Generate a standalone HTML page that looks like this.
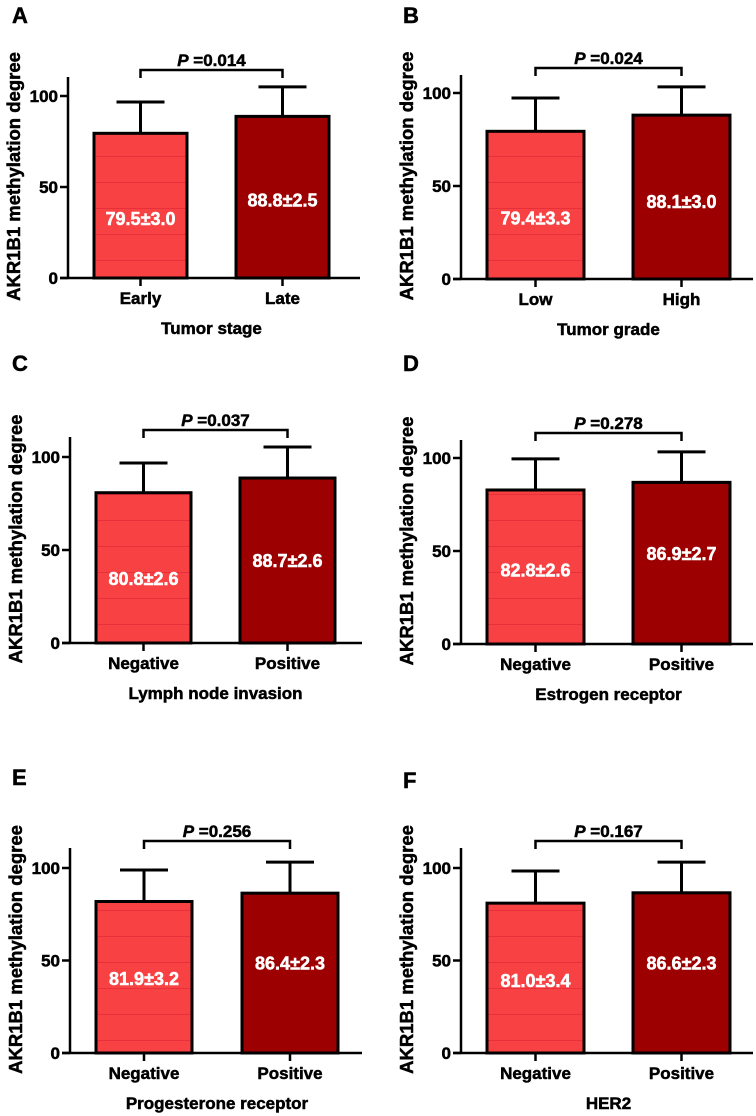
<!DOCTYPE html>
<html><head><meta charset="utf-8"><style>
html,body{margin:0;padding:0;background:#fff}
svg{display:block}
text{font-family:"Liberation Sans",Arial,sans-serif;font-weight:bold;stroke:currentColor;stroke-width:0.5px;paint-order:stroke}
</style></head><body>
<svg id="fig" width="756" height="1116" viewBox="0 0 756 1116" xmlns="http://www.w3.org/2000/svg"></svg>
<script>
// ---- data ----
const panelLetters = ["A","B","C","D","E","F"];
const xTitles = ["Tumor stage","Tumor grade","Lymph node invasion","Estrogen receptor","Progesterone receptor","HER2"];
const cat1 = ["Early","Low","Negative","Negative","Negative","Negative"];
const cat2 = ["Late","High","Positive","Positive","Positive","Positive"];
const means1 = [79.5,79.4,80.8,82.8,81.9,81.0];
const means2 = [88.8,88.1,88.7,86.9,86.4,86.6];
const sem1 = [3.0,3.3,2.6,2.6,3.2,3.4];
const sem2 = [2.5,3.0,2.6,2.7,2.3,2.3];
const errTop1 = [96.7,97.3,96.8,99.5,98.9,98.4];
const errTop2 = [105,103.3,105.4,103.3,103.2,103.2];
const labelVal1 = [33,33,35,40,40.5,39.5];
const labelVal2 = [43,42,44.6,49,49,49];
const pValues = ["0.014","0.024","0.037","0.278","0.256","0.167"];
const yTicks = [0,50,100];

// ---- layout (not data) ----
const layouts = [
 {ax:68, top:77, zero:278, y100:96, b1:26,b2:168,bw:93,letterX:12, letterY:23},
 {ax:461,top:75, zero:279, y100:93, b1:26,b2:172,bw:97,letterX:403,letterY:23},
 {ax:70, top:437,zero:643, y100:457,b1:26,b2:170,bw:95,letterX:12, letterY:371},
 {ax:461,top:440,zero:644, y100:458,b1:26,b2:172,bw:97,letterX:403,letterY:371},
 {ax:70, top:848,zero:1053,y100:868,b1:26,b2:172,bw:96,letterX:12, letterY:785},
 {ax:461,top:848,zero:1053,y100:868,b1:26,b2:172,bw:97,letterX:403,letterY:788}
];
const NS="http://www.w3.org/2000/svg";
const svg=document.getElementById('fig');
function mk(tag,attrs,parent){const e=document.createElementNS(NS,tag);for(const k in attrs)e.setAttribute(k,attrs[k]);(parent||svg).appendChild(e);return e;}

const defs=mk('defs',{});
const pat=mk('pattern',{id:'stripes',patternUnits:'userSpaceOnUse',width:100,height:26},defs);
mk('rect',{x:0,y:0,width:100,height:26,fill:'#f84143'},pat);
mk('rect',{x:0,y:0,width:100,height:1,fill:'#e8303a'},pat);

layouts.forEach((L,i)=>{
  const g=mk('g',{});
  
  
  const sc=(L.zero-L.y100)/100;
  const y=v=>L.zero-v*sc;
  const x1=L.ax+L.b1, x2=L.ax+L.b2, bw=L.bw;
  const c1=x1+bw/2, c2=x2+bw/2;
  const axEnd=Math.min(L.ax+292,755);

  const lt=mk('text',{x:L.letterX,y:L.letterY,'font-size':22,fill:'#000',color:'#000'},g);
  lt.textContent=panelLetters[i];
  
  

  const ymid=(L.top+L.zero)/2-1;
  const yt=mk('text',{x:0,y:0,'font-size':18.5,'text-anchor':'middle',color:'#000',transform:`translate(${L.ax-48},${ymid}) rotate(-90)`},g);
  yt.textContent='AKR1B1 methylation degree';
  
  

  [[x1,means1[i],'url(#stripes)',errTop1[i],c1,labelVal1[i],means1[i].toFixed(1)+'±'+sem1[i].toFixed(1),'bar-'+cat1[i].toLowerCase()],
   [x2,means2[i],'#9c0000',errTop2[i],c2,labelVal2[i],means2[i].toFixed(1)+'±'+sem2[i].toFixed(1),'bar-'+cat2[i].toLowerCase()]].forEach(b=>{
    const [bx,m,fill,et,cx,lv,lab,nm]=b;
    const eb=mk('line',{x1:cx,x2:cx,y1:y(m),y2:y(et),stroke:'#000','stroke-width':3},g);
    
    
    const cap=mk('line',{x1:cx-24,x2:cx+24,y1:y(et),y2:y(et),stroke:'#000','stroke-width':3},g);
    
    
    const r=mk('rect',{x:bx,y:y(m),width:bw,height:y(0)-y(m),fill:fill,stroke:'#000','stroke-width':3},g);
    
    
    const t=mk('text',{x:cx,y:y(lv)+7,'font-size':18,fill:'#fff',color:'#fff','text-anchor':'middle'},g);
    t.textContent=lab;
    
    
  });

  const ya=mk('line',{x1:L.ax,x2:L.ax,y1:L.top,y2:L.zero+1,stroke:'#000','stroke-width':2.5},g);
  
  
  const xa=mk('line',{x1:L.ax-8,x2:axEnd,y1:L.zero,y2:L.zero,stroke:'#000','stroke-width':2.5},g);
  
  
  yTicks.forEach(v=>{
    const tk=mk('line',{x1:L.ax-8,x2:L.ax,y1:y(v),y2:y(v),stroke:'#000','stroke-width':2.5},g);
    
    
    const tl=mk('text',{x:L.ax-10,y:y(v)+6,'font-size':17,'text-anchor':'end',color:'#000'},g);
    tl.textContent=v;
    
    
  });
  [[c1,cat1[i]],[c2,cat2[i]]].forEach(([cx,lab])=>{
    const tk=mk('line',{x1:cx,x2:cx,y1:L.zero,y2:L.zero+8,stroke:'#000','stroke-width':2.5},g);
    
    
    const tl=mk('text',{x:cx,y:L.zero+26,'font-size':17,'text-anchor':'middle',color:'#000'},g);
    tl.textContent=lab;
    
    
  });
  const xt=mk('text',{x:(c1+c2)/2,y:L.zero+56,'font-size':17,'text-anchor':'middle',color:'#000'},g);
  xt.textContent=xTitles[i];
  
  

  const by=L.top-7;
  const bl=mk('path',{d:`M${c1},${by+8}V${by}H${c2}V${by+8}`,fill:'none',stroke:'#000','stroke-width':2.5},g);
  
  
  const pt=mk('text',{x:(c1+c2)/2,y:by-4,'font-size':17,'text-anchor':'middle',color:'#000'},g);
  
  
  const ts=mk('tspan',{'font-style':'italic'},pt);ts.textContent='P';
  const ts2=mk('tspan',{},pt);ts2.textContent=' =' + pValues[i];
});
</script>
</body></html>
